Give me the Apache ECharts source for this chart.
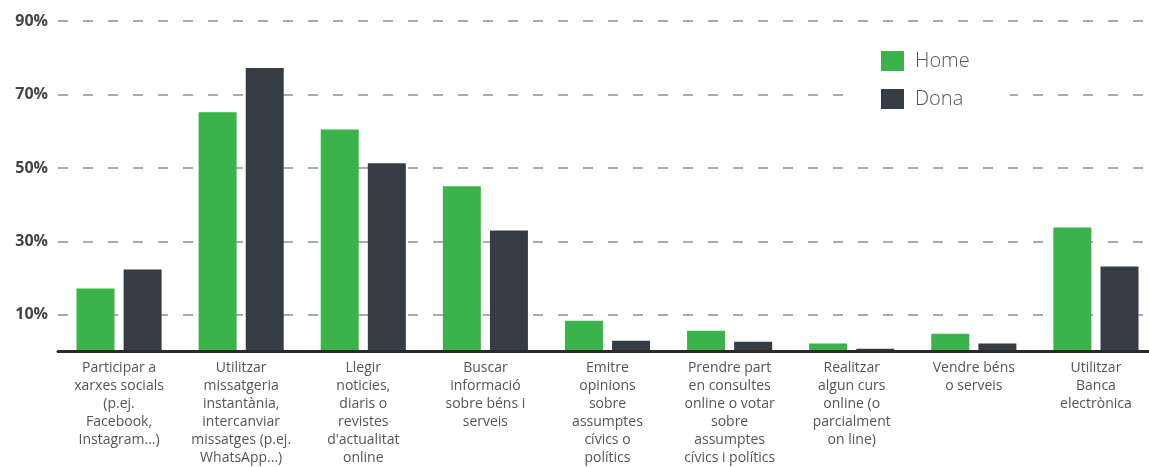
<!DOCTYPE html>
<html>
<head>
<meta charset="utf-8">
<script src="https://cdn.jsdelivr.net/npm/echarts@6/dist/echarts.min.js"></script>
<style>
  html, body { margin: 0; padding: 0; background: #fff; }
  #chart { width: 1149px; height: 467px; }
</style>
</head>
<body>
<div id="chart"></div>
<script>
var categories = [
    'Participar a\nxarxes socials\n(p.ej.\nFacebook,\nInstagram...)',
    'Utilitzar\nmissatgeria\ninstantània,\nintercanviar\nmissatges (p.ej.\nWhatsApp...)',
    'Llegir\nnoticies,\ndiaris o\nrevistes\nd\'actualitat\nonline',
    'Buscar\ninformació\nsobre béns i\nserveis',
    'Emitre\nopinions\nsobre\nassumptes\ncívics o\npolítics',
    'Prendre part\nen consultes\nonline o votar\nsobre\nassumptes\ncívics i polítics',
    'Realitzar\nalgun curs\nonline (o\nparcialment\non line)',
    'Vendre béns\no serveis',
    'Utilitzar\nBanca\nelectrònica'
];
var homeValues = [17.2, 65.2, 60.5, 45.0, 8.4, 5.7, 2.2, 4.9, 33.8];
var donaValues = [22.4, 77.2, 51.3, 33.0, 3.0, 2.7, 0.8, 2.2, 23.2];
var seriesNames = ['Home', 'Dona'];

var chart = echarts.init(document.getElementById('chart'));

// grid 0: bars (0..90), grid 1: only the ticks 10,30,...,90 and dashed lines
var option = {
    animation: false,
    color: ['#3ab34a', '#353c44'],
    textStyle: { fontFamily: 'Open Sans' },
    grid: [
        { left: 58, right: -8, top: 21, bottom: 115.3, outerBoundsMode: 'none' },
        { left: 58, right: -8, top: 21, bottom: 78.6, outerBoundsMode: 'none' }
    ],
    legend: {
        orient: 'vertical',
        left: 851,
        top: 46,
        padding: [5, 40, 5, 30],
        z: 20,
        itemWidth: 23,
        itemHeight: 20,
        itemGap: 18,
        icon: 'rect',
        backgroundColor: '#fff',
        data: seriesNames,
        textStyle: { fontSize: 20, color: '#555', fontWeight: 300, padding: [0, 0, 0, 6] }
    },
    xAxis: [{
        type: 'category',
        gridIndex: 0,
        data: categories,
        z: 15,
        axisLine: { lineStyle: { color: '#2a2a2a', width: 3 } },
        axisTick: { show: false },
        axisLabel: {
            interval: 0,
            color: '#555',
            fontSize: 14,
            lineHeight: 18,
            margin: 7
        }
    }, {
        type: 'category',
        gridIndex: 1,
        data: categories,
        show: false
    }],
    yAxis: [{
        type: 'value',
        gridIndex: 0,
        min: 0,
        max: 90,
        show: false
    }, {
        type: 'value',
        gridIndex: 1,
        min: -10,
        max: 90,
        interval: 20,
        z: 0,
        axisLine: { show: false },
        axisTick: { show: false },
        axisLabel: {
            color: '#444',
            fontSize: 16,
            fontWeight: 'bold',
            margin: 10,
            formatter: function(v) { return v < 0 ? '' : v + '%'; }
        },
        splitLine: {
            showMinLine: false,
            lineStyle: { color: '#aaa', width: 2, type: [10, 15] }
        }
    }],
    series: [{
        name: seriesNames[0],
        type: 'bar',
        xAxisIndex: 0,
        yAxisIndex: 0,
        z: 10,
        barWidth: 38,
        barGap: '24%',
        data: homeValues
    }, {
        name: seriesNames[1],
        type: 'bar',
        xAxisIndex: 0,
        yAxisIndex: 0,
        z: 10,
        barWidth: 38,
        data: donaValues
    }]
};
chart.setOption(option);
</script>
</body>
</html>
